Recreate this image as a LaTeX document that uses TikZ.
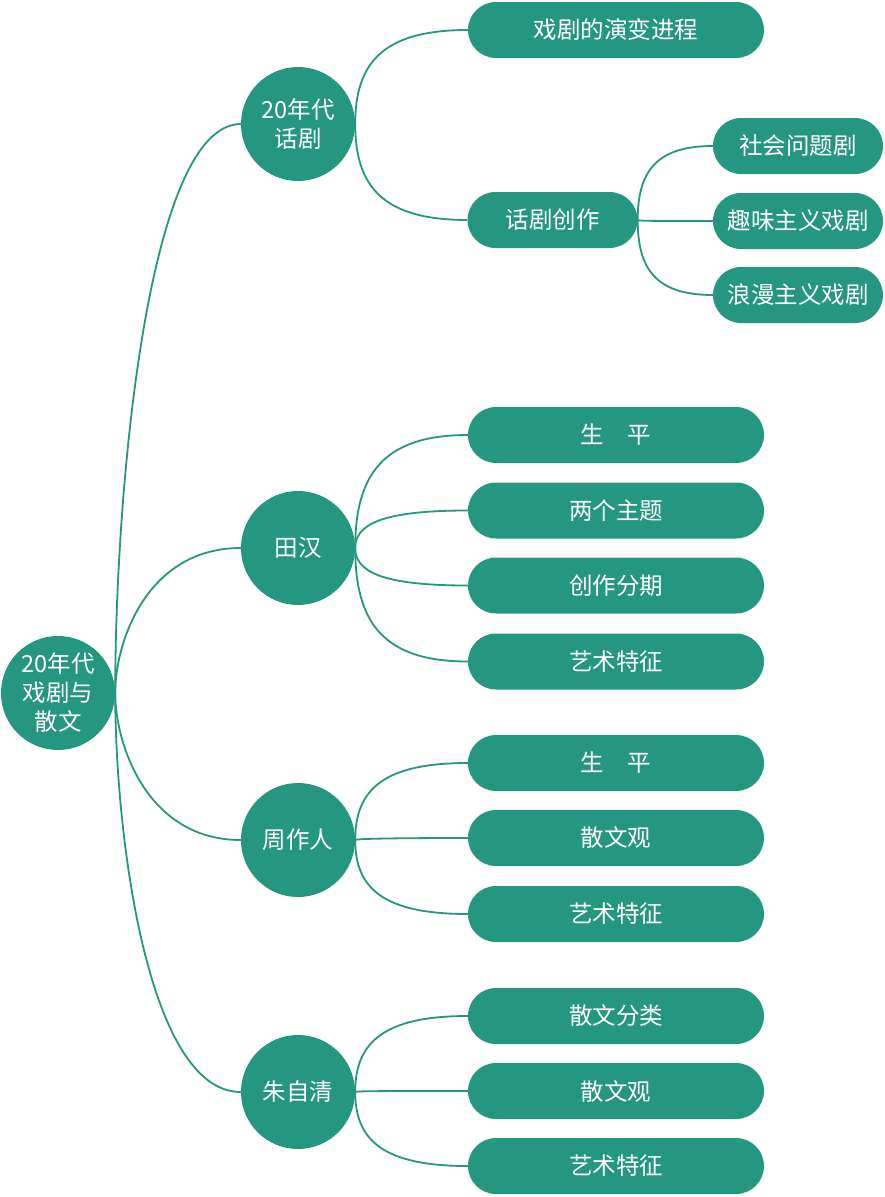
\documentclass[tikz,border=0pt]{standalone}
\usepackage{fontspec}
\setmainfont{Noto Sans CJK SC}
\usetikzlibrary{backgrounds}
\definecolor{tealmain}{RGB}{37,150,128}
\begin{document}
\begin{tikzpicture}[x=1pt,y=-1pt,
  circ/.style={circle,fill=tealmain,text=white,minimum size=114pt,inner sep=0pt,align=center,font=\fontsize{23.5}{29}\selectfont},
  pill/.style={rectangle,rounded corners=28pt,fill=tealmain,text=white,minimum height=56pt,minimum width=296pt,inner sep=0pt,font=\fontsize{23.5}{29}\selectfont},
  spill/.style={pill,minimum width=170pt},
  edge/.style={draw=tealmain,line width=1.8pt}]
\useasboundingbox (0,0) rectangle (884,1197);
% root
\node[circ] (r) at (58,693) {20年代\\戏剧与\\散文};
% level 1
\node[circ] (a) at (298,124) {20年代\\话剧};
\node[circ] (b) at (298,548) {田汉};
\node[circ] (c) at (298,840) {周作人};
\node[circ] (d) at (298,1092) {朱自清};
% level 2 under a
\node[pill] (a1) at (616,30) {戏剧的演变进程};
\node[spill] (a2) at (552.5,220) {话剧创作};
\node[spill] (a21) at (798,146) {社会问题剧};
\node[spill] (a22) at (798,221) {趣味主义戏剧};
\node[spill] (a23) at (798,295) {浪漫主义戏剧};
% under b
\node[pill] (b1) at (616,435) {生　平};
\node[pill] (b2) at (616,510.5) {两个主题};
\node[pill] (b3) at (616,585.5) {创作分期};
\node[pill] (b4) at (616,661.5) {艺术特征};
% under c
\node[pill] (c1) at (616,763) {生　平};
\node[pill] (c2) at (616,838) {散文观};
\node[pill] (c3) at (616,914) {艺术特征};
% under d
\node[pill] (d1) at (616,1016) {散文分类};
\node[pill] (d2) at (616,1091) {散文观};
\node[pill] (d3) at (616,1166) {艺术特征};
\begin{scope}[on background layer]
\draw[edge] (r.east) .. controls +(0,-199) and +(-94,0) .. (a.west);
\draw[edge] (r.east) .. controls +(0,-51) and +(-94,0) .. (b.west);
\draw[edge] (r.east) .. controls +(0,51) and +(-94,0) .. (c.west);
\draw[edge] (r.east) .. controls +(0,140) and +(-94,0) .. (d.west);
\draw[edge] (a.east) .. controls +(0,-61) and +(-85,0) .. (a1.west);
\draw[edge] (a.east) .. controls +(0,62) and +(-85,0) .. (a2.west);
\draw[edge] (a2.east) .. controls +(0,-48) and +(-57,0) .. (a21.west);
\draw[edge] (a2.east) .. controls +(0,1) and +(-57,0) .. (a22.west);
\draw[edge] (a2.east) .. controls +(0,49) and +(-57,0) .. (a23.west);
\draw[edge] (b.east) .. controls +(0,-73) and +(-85,0) .. (b1.west);
\draw[edge] (b.east) .. controls +(0,-24) and +(-85,0) .. (b2.west);
\draw[edge] (b.east) .. controls +(0,24) and +(-85,0) .. (b3.west);
\draw[edge] (b.east) .. controls +(0,74) and +(-85,0) .. (b4.west);
\draw[edge] (c.east) .. controls +(0,-50) and +(-85,0) .. (c1.west);
\draw[edge] (c.east) .. controls +(0,-1) and +(-85,0) .. (c2.west);
\draw[edge] (c.east) .. controls +(0,48) and +(-85,0) .. (c3.west);
\draw[edge] (d.east) .. controls +(0,-49) and +(-85,0) .. (d1.west);
\draw[edge] (d.east) .. controls +(0,-1) and +(-85,0) .. (d2.west);
\draw[edge] (d.east) .. controls +(0,48) and +(-85,0) .. (d3.west);
\end{scope}
\end{tikzpicture}
\end{document}
